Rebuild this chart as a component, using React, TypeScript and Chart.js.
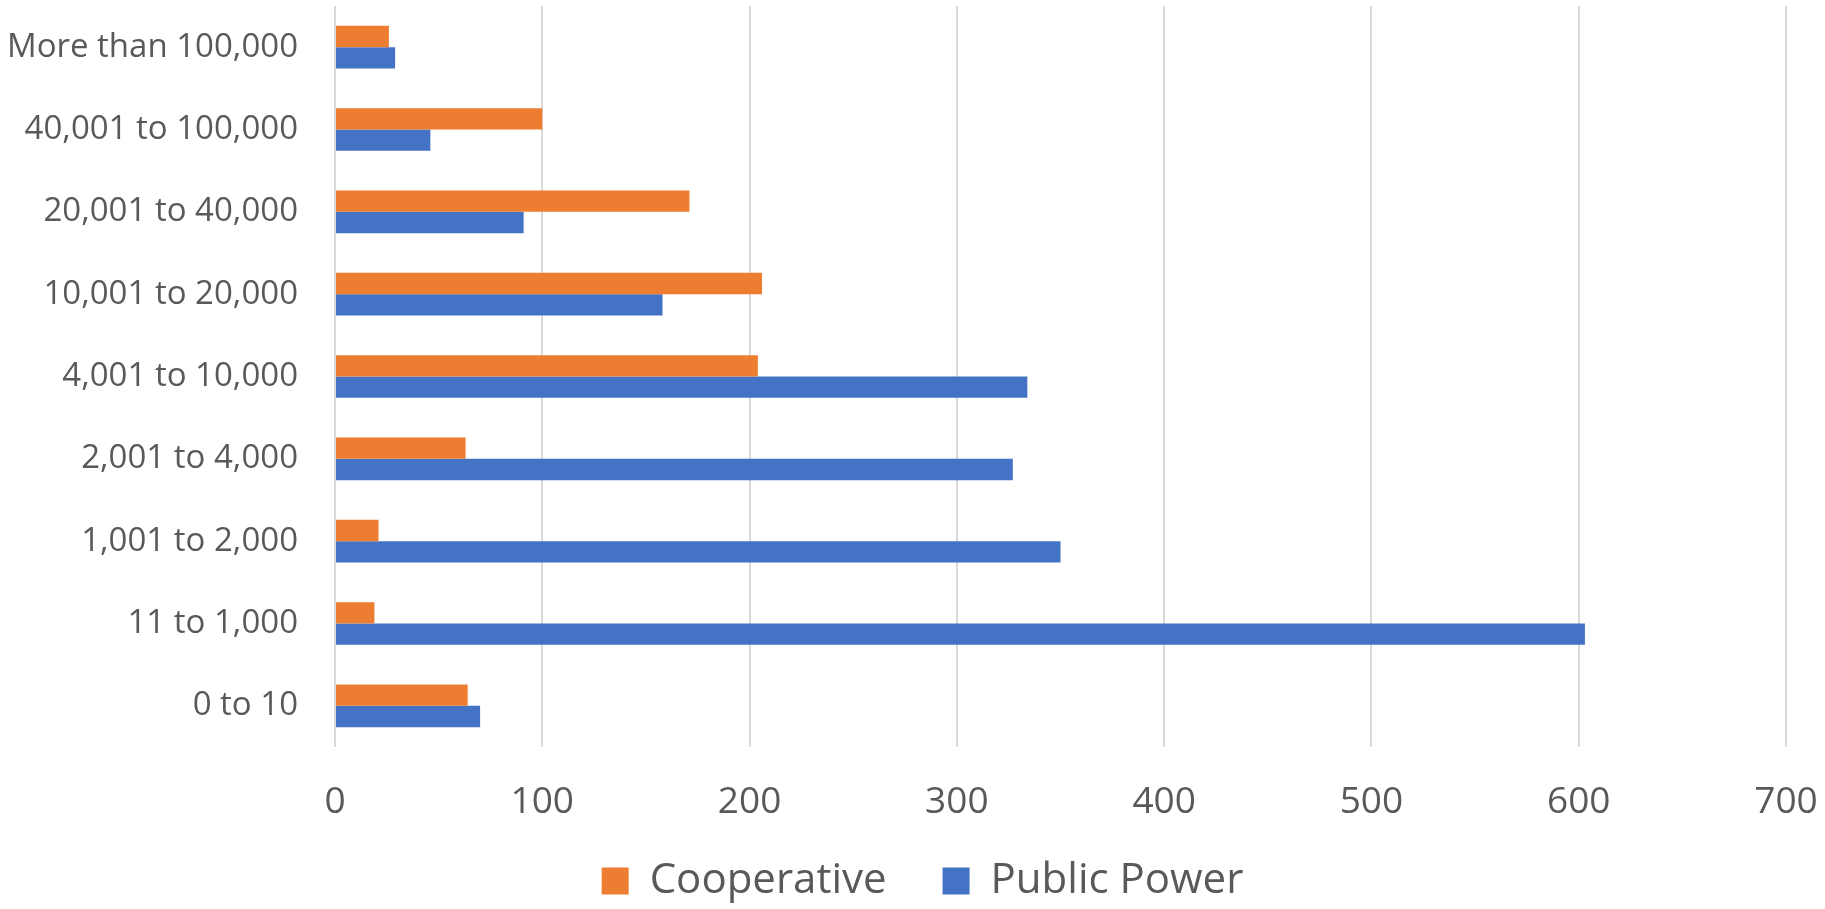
import React, { useEffect, useRef } from "react";
import { Chart, registerables } from "chart.js";

Chart.register(...registerables);

const categories = [
  "More than 100,000",
  "40,001 to 100,000",
  "20,001 to 40,000",
  "10,001 to 20,000",
  "4,001 to 10,000",
  "2,001 to 4,000",
  "1,001 to 2,000",
  "11 to 1,000",
  "0 to 10",
];

const cooperative = [26, 100, 171, 206, 204, 63, 21, 19, 64];
const publicPower = [29, 46, 91, 158, 334, 327, 350, 603, 70];

const xTicks = [0, 100, 200, 300, 400, 500, 600, 700];

const FONT = "'Open Sans', 'Noto Sans', sans-serif";
const TEXT = "#595959";

const legendShift = {
  id: "legendShift",
  afterLayout(chart: any) {
    const l = chart.legend;
    if (!l) return;
    l.left += 10;
    l.right += 10;
    l.top -= 23;
    l.bottom -= 23;
  },
};

export default function App() {
  const ref = useRef<HTMLCanvasElement | null>(null);

  useEffect(() => {
    document.body.style.margin = "0";
    const canvas = ref.current;
    if (!canvas) return;
    const chart = new Chart(canvas, {
      type: "bar",
      data: {
        labels: categories,
        datasets: [
          {
            label: "Cooperative",
            data: cooperative,
            backgroundColor: "#ED7D31",
            borderWidth: 0,
            categoryPercentage: 0.518,
            barPercentage: 1,
          },
          {
            label: "Public Power",
            data: publicPower,
            backgroundColor: "#4472C4",
            borderWidth: 0,
            categoryPercentage: 0.518,
            barPercentage: 1,
          },
        ],
      },
      plugins: [legendShift],
      options: {
        indexAxis: "y",
        animation: false,
        responsive: true,
        maintainAspectRatio: false,
        layout: { padding: { top: 6, left: 0, right: 0, bottom: -26 } },
        plugins: {
          tooltip: { enabled: false },
          legend: {
            position: "bottom",
            labels: {
              color: TEXT,
              font: { family: FONT, size: 42 },
              boxWidth: 27,
              boxHeight: 27,
              padding: 56,
            },
          },
        },
        scales: {
          x: {
            min: 0,
            max: 700,
            afterBuildTicks: (axis: any) => {
              axis.ticks = xTicks.map((v) => ({ value: v }));
            },
            afterFit: (scale: any) => {
              scale.height = 80;
              scale.paddingLeft = 0;
              scale.paddingRight = 39;
            },
            grid: { color: "#D9D9D9", lineWidth: 2, drawTicks: false },
            border: { display: false },
            ticks: {
              color: TEXT,
              font: { family: FONT, size: 37 },
              padding: 33,
              maxRotation: 0,
            },
          },
          y: {
            afterFit: (scale: any) => {
              scale.width = 335;
              scale.paddingTop = 0;
              scale.paddingBottom = 0;
            },
            grid: { display: false, drawTicks: false },
            border: { display: false },
            ticks: {
              color: TEXT,
              font: { family: FONT, size: 33 },
              padding: 37,
            },
          },
        },
      },
    });
    return () => chart.destroy();
  }, []);

  return (
    <div style={{ position: "relative", width: "1825px", height: "909px", background: "#fff" }}>
      <canvas ref={ref} />
    </div>
  );
}
